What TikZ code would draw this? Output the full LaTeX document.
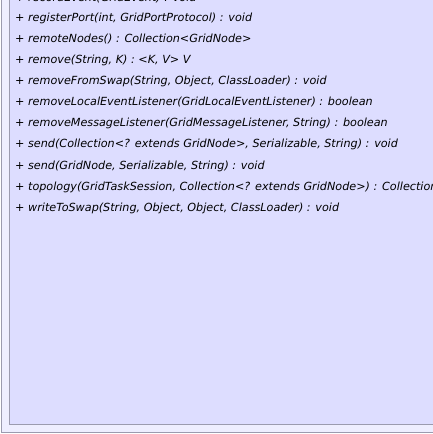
\documentclass[tikz,border=0pt]{standalone}
\usepackage{fontspec}
\setmainfont{DejaVu Sans}
\usepackage{tikz}
\definecolor{outerfill}{RGB}{238,238,255}
\definecolor{innerfill}{RGB}{221,221,255}
\definecolor{boxline}{RGB}{155,155,175}
\tikzset{
  op/.style={anchor=base west, inner sep=0pt, font=\fontsize{11.2}{13}\selectfont\itshape},
  classbox/.style={draw=boxline, line width=1pt}
}
\begin{document}
\begin{tikzpicture}[x=1pt,y=-1pt]
        \useasboundingbox (0,0) rectangle (433,434);
        \clip (0,0) rectangle (433,434);
        \draw[classbox, fill=outerfill] (1.5,-20) rectangle (450,432.5);
        \draw[classbox, fill=innerfill] (9.5,-20) rectangle (450,424.5);
        \node[op] (recordEvent) at (15,1.2){+ recordEvent(GridEvent) : void};
        \node[op] (registerPort) at (15,21.3){+ registerPort(int, GridPortProtocol) : void};
        \node[op] (remoteNodes) at (15,42.4){+ remoteNodes() : Collection<GridNode>};
        \node[op] (remove) at (15,63.5){+ remove(String, K) : <K, V> V};
        \node[op] (removeFromSwap) at (15,84.6){+ removeFromSwap(String, Object, ClassLoader) : void};
        \node[op] (removeLocal) at (15,105.7){+ removeLocalEventListener(GridLocalEventListener) : boolean};
        \node[op] (removeMessage) at (15,126.8){+ removeMessageListener(GridMessageListener, String) : boolean};
        \node[op] (sendColl) at (15,147.9){+ send(Collection<? extends GridNode>, Serializable, String) : void};
        \node[op] (sendNode) at (15,169){+ send(GridNode, Serializable, String) : void};
        \node[op] (topology) at (15,190.1){+ topology(GridTaskSession, Collection<? extends GridNode>) : Collection<GridNode>};
        \node[op] (writeToSwap) at (15,211.2){+ writeToSwap(String, Object, Object, ClassLoader) : void};
    \end{tikzpicture}
\end{document}
